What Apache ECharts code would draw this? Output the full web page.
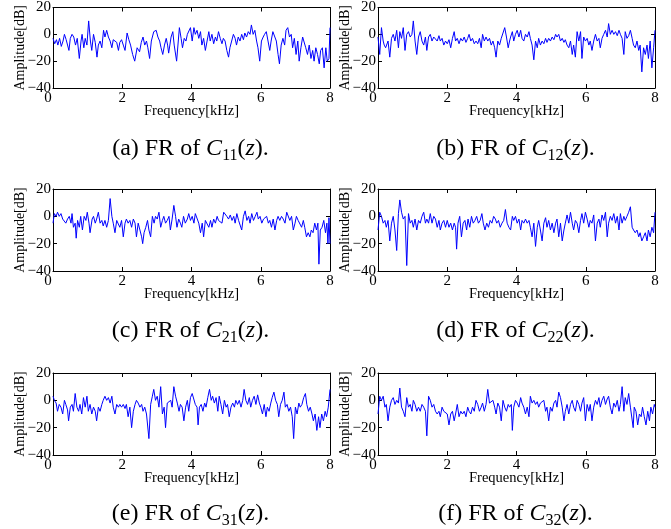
<!DOCTYPE html>
<html><head><meta charset="utf-8">
<script src="https://cdn.jsdelivr.net/npm/echarts@6/dist/echarts.min.js"></script>
<style>html,body{margin:0;padding:0;background:#fff}#c{width:671px;height:529px}</style>
</head><body><div id="c"></div>
<script>
// ---- data (frequency kHz, amplitude dB) ----
const xTicks = [0, 2, 4, 6, 8];
const yTicks = [-40, -20, 0, 20];
const captionLetters = ['a', 'b', 'c', 'd', 'e', 'f'];
const captionSubs = ['11', '12', '21', '22', '31', '32'];

const C11 = [[0,-3],[0.05,-7],[0.1,-4],[0.14,-8],[0.19,-3],[0.24,-9],[0.29,-5],[0.33,0],[0.38,-4],[0.46,-12],[0.5,-3],[0.55,0],[0.6,-2],[0.65,-8],[0.7,-3],[0.76,-18],[0.81,-5],[0.84,0],[0.89,-10],[0.93,-3],[0.98,-8],[1.03,10],[1.08,-5],[1.12,-12],[1.17,0],[1.22,-6],[1.27,-17],[1.31,-8],[1.36,-5],[1.41,-10],[1.46,3],[1.5,-2],[1.55,3],[1.6,-2],[1.65,-5],[1.7,-10],[1.74,-4],[1.79,-3],[1.84,-6],[1.89,-12],[1.93,-6],[1.98,-4],[2.03,-8],[2.08,-12],[2.14,1],[2.19,-4],[2.24,-8],[2.3,-15],[2.36,-20],[2.43,-10],[2.5,-13],[2.55,-6],[2.6,-2],[2.65,-8],[2.7,-5],[2.74,-10],[2.79,-18],[2.84,-5],[2.91,2],[2.98,3],[3.03,-2],[3.08,-5],[3.12,-10],[3.17,-15],[3.22,-8],[3.27,-3],[3.31,-8],[3.34,-14],[3.41,-2],[3.46,2],[3.5,-8],[3.57,-20],[3.65,5],[3.7,-3],[3.74,-10],[3.79,-3],[3.84,-5],[3.88,0],[3.97,5],[4.02,-5],[4.07,5],[4.11,0],[4.16,3],[4.21,-3],[4.26,2],[4.3,-8],[4.35,-3],[4.4,-12],[4.45,-5],[4.5,2],[4.54,-5],[4.59,0],[4.64,-7],[4.69,-2],[4.73,-5],[4.78,2],[4.83,-3],[4.88,-7],[4.92,-3],[4.97,-5],[5.02,-12],[5.07,-17],[5.11,-10],[5.16,-5],[5.21,0],[5.26,-3],[5.3,-8],[5.35,-2],[5.4,-5],[5.45,0],[5.5,-4],[5.54,1],[5.59,-2],[5.64,2],[5.69,0],[5.73,7],[5.78,0],[5.83,3],[5.88,-5],[5.92,-10],[5.97,-20],[6.02,-5],[6.07,-2],[6.11,0],[6.16,2],[6.21,-5],[6.26,-12],[6.3,-5],[6.35,2],[6.4,3],[6.45,-5],[6.5,-15],[6.54,-22],[6.59,-8],[6.64,-3],[6.69,-8],[6.73,3],[6.78,5],[6.83,-2],[6.88,0],[6.92,-10],[6.97,-3],[7.02,-15],[7.07,-5],[7.11,-20],[7.16,-10],[7.21,-2],[7.26,-3],[7.3,-10],[7.35,-15],[7.4,-8],[7.45,-18],[7.5,-12],[7.54,-20],[7.59,-10],[7.64,-15],[7.69,-22],[7.73,-12],[7.78,-10],[7.83,-25],[7.88,-10],[7.92,-20],[7.97,-18],[8,5]];

const C12 = [[0,-2],[0.05,-15],[0.1,5],[0.15,-5],[0.18,-8],[0.22,-10],[0.29,-5],[0.34,-17],[0.39,-3],[0.44,0],[0.49,-5],[0.54,3],[0.59,-10],[0.63,2],[0.68,-3],[0.73,5],[0.78,-12],[0.83,0],[0.88,2],[0.93,-2],[0.98,0],[1.02,10],[1.07,-5],[1.12,-15],[1.17,-2],[1.22,2],[1.27,-5],[1.32,-8],[1.37,-2],[1.41,-12],[1.46,-2],[1.51,0],[1.56,-5],[1.61,-2],[1.66,-3],[1.71,-5],[1.76,-1],[1.8,-5],[1.85,-3],[1.9,-8],[1.95,-5],[2.0,-7],[2.05,-4],[2.1,-10],[2.15,-3],[2.2,2],[2.24,-5],[2.29,-3],[2.34,-7],[2.39,-3],[2.44,-5],[2.49,-2],[2.54,-6],[2.59,-3],[2.63,0],[2.68,-5],[2.73,-3],[2.78,-7],[2.83,-5],[2.88,-7],[2.93,-3],[2.98,-10],[3.02,0],[3.07,-5],[3.12,-2],[3.17,-5],[3.22,-3],[3.27,-8],[3.32,-5],[3.37,-10],[3.41,-17],[3.46,-5],[3.51,-8],[3.56,-3],[3.66,5],[3.71,-2],[3.76,-10],[3.8,-5],[3.83,-2],[3.88,2],[3.92,-5],[3.97,0],[4.02,3],[4.07,-2],[4.12,3],[4.16,-3],[4.21,-5],[4.26,0],[4.31,-2],[4.36,2],[4.4,-3],[4.45,-8],[4.5,-19],[4.55,-5],[4.6,-10],[4.64,-3],[4.69,-8],[4.74,-5],[4.79,-7],[4.84,-3],[4.88,-6],[4.93,-3],[4.98,-5],[5.03,-2],[5.08,-4],[5.13,0],[5.17,-2],[5.22,0],[5.27,-5],[5.32,-3],[5.37,-6],[5.41,-4],[5.46,-8],[5.51,-10],[5.56,-5],[5.61,-15],[5.65,-8],[5.7,-17],[5.75,2],[5.8,-5],[5.85,2],[5.89,-18],[5.94,-2],[5.99,-5],[6.04,-3],[6.09,-8],[6.13,-5],[6.18,-12],[6.23,-5],[6.28,0],[6.33,-5],[6.38,-3],[6.42,-10],[6.47,-3],[6.52,0],[6.57,3],[6.62,-2],[6.66,8],[6.71,0],[6.76,3],[6.81,0],[6.86,2],[6.91,-1],[6.96,3],[7.0,0],[7.05,-3],[7.1,-15],[7.14,2],[7.19,-3],[7.24,-1],[7.29,3],[7.34,-3],[7.38,-8],[7.43,-10],[7.48,-5],[7.53,-12],[7.57,-8],[7.62,-28],[7.67,-10],[7.72,-15],[7.77,-8],[7.81,-18],[7.86,-5],[7.91,-25],[7.96,-10],[8,3]];

const C21 = [[0,-5],[0.04,2],[0.09,0],[0.13,3],[0.18,0],[0.23,2],[0.28,-2],[0.33,-3],[0.37,-5],[0.42,-2],[0.47,0],[0.52,-5],[0.55,2],[0.59,-8],[0.64,-5],[0.67,-16],[0.71,-3],[0.76,-8],[0.8,0],[0.85,-10],[0.9,0],[0.95,-3],[0.99,3],[1.04,-5],[1.07,-12],[1.13,-2],[1.17,0],[1.22,-5],[1.26,-2],[1.31,3],[1.36,-5],[1.41,-3],[1.45,-7],[1.5,-3],[1.55,-8],[1.6,-3],[1.65,13],[1.7,0],[1.74,-5],[1.79,-12],[1.84,-3],[1.89,-2],[1.93,-8],[1.98,-3],[2.03,-15],[2.08,-5],[2.12,-2],[2.17,-5],[2.22,-3],[2.27,-8],[2.32,-2],[2.37,-5],[2.41,-15],[2.46,-5],[2.51,-10],[2.56,-15],[2.59,-20],[2.63,-12],[2.68,-8],[2.73,-3],[2.77,-10],[2.82,-15],[2.87,0],[2.92,-5],[2.96,0],[3.01,-2],[3.06,3],[3.11,-8],[3.16,-3],[3.2,0],[3.25,-5],[3.3,-3],[3.35,0],[3.39,-10],[3.44,-2],[3.49,8],[3.54,0],[3.58,-8],[3.63,-2],[3.68,-5],[3.72,-8],[3.77,0],[3.82,-5],[3.88,-2],[3.92,2],[3.97,-3],[4.02,0],[4.07,-5],[4.11,2],[4.16,3],[4.21,-5],[4.26,-12],[4.31,-5],[4.35,-15],[4.4,-3],[4.45,-2],[4.5,-8],[4.55,-3],[4.59,-8],[4.64,-2],[4.69,-5],[4.74,0],[4.78,-3],[4.83,-2],[4.88,-5],[4.93,3],[4.98,2],[5.02,0],[5.07,-2],[5.12,1],[5.17,-3],[5.22,0],[5.26,-5],[5.31,2],[5.36,-3],[5.41,-2],[5.45,-10],[5.5,0],[5.55,4],[5.6,-3],[5.65,0],[5.69,-5],[5.74,2],[5.79,-3],[5.84,0],[5.89,3],[5.93,-2],[5.98,0],[6.03,-5],[6.08,-2],[6.12,-3],[6.17,0],[6.22,-5],[6.26,-3],[6.31,-8],[6.36,-2],[6.41,-10],[6.46,-3],[6.5,0],[6.55,-3],[6.6,0],[6.65,-2],[6.7,-5],[6.75,3],[6.79,2],[6.84,-3],[6.89,0],[6.94,-10],[6.99,-5],[7.03,0],[7.08,-3],[7.13,-2],[7.18,-8],[7.23,-3],[7.27,-8],[7.32,-15],[7.37,-12],[7.42,-15],[7.46,-10],[7.51,-12],[7.56,-5],[7.61,-10],[7.65,-5],[7.68,-35],[7.72,-10],[7.77,-8],[7.82,-3],[7.87,-12],[7.91,-5],[7.94,-20],[7.97,-1],[8,-20]];

const C22 = [[0,-10],[0.05,3],[0.1,0],[0.15,-5],[0.2,-3],[0.24,-8],[0.29,-3],[0.34,-18],[0.39,-5],[0.44,0],[0.49,-10],[0.54,-25],[0.59,2],[0.63,12],[0.68,3],[0.73,-2],[0.78,0],[0.83,-36],[0.88,2],[0.93,-5],[0.98,-3],[1.02,-8],[1.07,-2],[1.12,-10],[1.17,-3],[1.22,-5],[1.27,0],[1.32,3],[1.37,-5],[1.41,-2],[1.46,-5],[1.51,2],[1.56,-5],[1.61,0],[1.66,-2],[1.71,-8],[1.76,-3],[1.8,-10],[1.85,-5],[1.9,-3],[1.95,-8],[2.0,-3],[2.05,-8],[2.1,-5],[2.15,-10],[2.2,-5],[2.24,-8],[2.27,-24],[2.31,-5],[2.36,0],[2.41,-15],[2.46,-5],[2.51,-3],[2.56,-10],[2.6,-2],[2.65,-8],[2.7,0],[2.75,-5],[2.8,-3],[2.85,0],[2.9,-5],[2.95,-3],[3.0,2],[3.04,-5],[3.09,-10],[3.14,-5],[3.19,-8],[3.24,-3],[3.29,-5],[3.34,0],[3.39,-2],[3.43,-5],[3.48,-3],[3.53,-8],[3.58,-5],[3.63,-3],[3.68,5],[3.73,-5],[3.78,-8],[3.83,-10],[3.88,0],[3.92,-3],[3.97,0],[4.02,-5],[4.07,-2],[4.12,-10],[4.16,-3],[4.21,-5],[4.26,-2],[4.31,-5],[4.36,-3],[4.4,-8],[4.45,-15],[4.5,-5],[4.55,-22],[4.6,-8],[4.64,-3],[4.69,-10],[4.74,-18],[4.79,-5],[4.84,-1],[4.88,-8],[4.93,-3],[4.98,-10],[5.03,-5],[5.08,-12],[5.13,-5],[5.17,-2],[5.22,-15],[5.27,-5],[5.32,-18],[5.37,-10],[5.41,-5],[5.46,1],[5.51,-5],[5.56,3],[5.61,-5],[5.65,-10],[5.7,-3],[5.75,-5],[5.8,-12],[5.85,-3],[5.89,2],[5.94,-5],[5.99,3],[6.04,-2],[6.09,-8],[6.13,-3],[6.18,-5],[6.23,1],[6.28,-18],[6.33,-5],[6.38,-2],[6.42,-8],[6.47,1],[6.52,-3],[6.57,3],[6.62,-15],[6.66,-5],[6.71,0],[6.76,-3],[6.81,2],[6.86,-5],[6.91,0],[6.96,-10],[7.0,2],[7.05,-5],[7.1,0],[7.14,-3],[7.19,0],[7.24,3],[7.29,7],[7.34,-8],[7.38,-10],[7.43,-12],[7.48,-10],[7.53,-15],[7.57,-12],[7.62,-18],[7.67,-15],[7.72,-12],[7.77,-18],[7.81,-10],[7.86,-15],[7.91,-8],[7.96,-12],[8,3]];

const C31 = [[0,3],[0.04,0],[0.09,-2],[0.13,-8],[0.18,-3],[0.23,-5],[0.28,-10],[0.33,0],[0.37,-3],[0.42,-7],[0.45,-15],[0.5,-5],[0.55,-3],[0.59,-8],[0.64,5],[0.69,-5],[0.74,-8],[0.78,-3],[0.83,-10],[0.88,2],[0.93,-5],[0.98,3],[1.02,-8],[1.07,-3],[1.12,-10],[1.17,-5],[1.22,-8],[1.26,-15],[1.31,-5],[1.36,-8],[1.41,-3],[1.45,0],[1.5,3],[1.55,0],[1.6,2],[1.65,-2],[1.7,3],[1.74,-5],[1.79,-10],[1.84,-3],[1.89,-5],[1.93,-3],[1.98,-5],[2.03,-3],[2.08,-6],[2.12,-3],[2.17,-12],[2.22,-5],[2.27,-20],[2.32,-8],[2.37,-3],[2.41,0],[2.46,-2],[2.51,-5],[2.56,-3],[2.6,-8],[2.65,-5],[2.7,-10],[2.77,-28],[2.82,-3],[2.87,3],[2.91,8],[2.96,0],[3.01,3],[3.06,-5],[3.11,10],[3.16,-10],[3.21,-5],[3.25,-20],[3.3,-2],[3.35,-3],[3.4,0],[3.44,-5],[3.49,10],[3.54,3],[3.59,-2],[3.64,-8],[3.68,-3],[3.73,-5],[3.78,-15],[3.83,-5],[3.88,0],[3.92,-8],[3.97,2],[4.02,5],[4.07,6],[4.11,-3],[4.16,-5],[4.19,-18],[4.23,-5],[4.28,-3],[4.33,-8],[4.38,-2],[4.42,-5],[4.47,2],[4.52,8],[4.57,0],[4.61,3],[4.66,-2],[4.71,2],[4.76,-8],[4.8,3],[4.85,-3],[4.9,-10],[4.95,0],[5.0,-5],[5.04,-3],[5.09,-12],[5.14,-5],[5.19,-2],[5.24,-5],[5.28,0],[5.33,-3],[5.38,0],[5.43,-5],[5.48,0],[5.52,8],[5.57,0],[5.62,-3],[5.67,2],[5.71,-5],[5.76,0],[5.81,3],[5.86,-3],[5.91,4],[5.96,-2],[6.0,-5],[6.05,-10],[6.1,-3],[6.15,-12],[6.19,-5],[6.24,-8],[6.29,-2],[6.33,2],[6.38,6],[6.43,0],[6.48,-3],[6.52,-12],[6.57,-3],[6.62,0],[6.67,6],[6.71,-5],[6.76,-3],[6.81,-8],[6.86,-5],[6.91,-12],[6.95,-28],[7.0,-5],[7.05,-10],[7.1,-2],[7.14,-5],[7.19,-3],[7.24,2],[7.29,5],[7.33,-3],[7.38,-8],[7.43,-5],[7.48,-10],[7.52,-15],[7.57,-10],[7.62,-22],[7.67,-12],[7.71,-20],[7.76,-10],[7.81,-15],[7.86,-8],[7.9,-12],[7.95,-5],[8,8]];

const C32 = [[0,-10],[0.05,3],[0.1,0],[0.15,3],[0.2,-5],[0.24,-3],[0.29,-15],[0.34,-5],[0.39,0],[0.44,2],[0.49,-3],[0.54,0],[0.59,-2],[0.63,9],[0.68,-5],[0.73,-8],[0.78,-12],[0.83,2],[0.88,-5],[0.93,-3],[0.98,-8],[1.02,0],[1.07,-3],[1.12,-8],[1.17,-5],[1.22,-8],[1.27,-3],[1.32,-5],[1.37,-8],[1.41,-26],[1.46,3],[1.51,0],[1.56,-5],[1.61,-3],[1.66,-8],[1.71,-10],[1.76,-8],[1.8,-12],[1.85,-5],[1.9,-8],[1.95,-7],[2.0,-10],[2.05,-18],[2.1,-10],[2.15,-8],[2.2,-15],[2.24,-10],[2.29,-3],[2.34,-12],[2.39,-8],[2.44,-10],[2.49,-8],[2.54,-12],[2.59,-5],[2.63,-8],[2.68,-10],[2.73,-5],[2.78,-8],[2.83,0],[2.88,-3],[2.93,-8],[2.98,-5],[3.02,-2],[3.07,-8],[3.12,-3],[3.17,8],[3.22,-2],[3.27,-3],[3.32,0],[3.37,-5],[3.41,-10],[3.46,-2],[3.51,-5],[3.56,-15],[3.61,0],[3.66,-5],[3.71,-8],[3.76,-3],[3.8,-5],[3.85,-3],[3.88,-22],[3.92,-5],[3.97,0],[4.02,-2],[4.07,-5],[4.12,2],[4.16,-2],[4.21,-5],[4.26,-10],[4.31,-5],[4.36,-12],[4.4,3],[4.45,-2],[4.5,0],[4.55,-3],[4.6,-1],[4.64,-5],[4.69,-2],[4.74,-3],[4.79,0],[4.84,-8],[4.88,-5],[4.93,-15],[4.98,-5],[5.03,-8],[5.08,-2],[5.13,0],[5.17,-5],[5.22,6],[5.27,2],[5.32,-5],[5.37,-15],[5.41,-8],[5.46,-3],[5.51,-10],[5.56,-3],[5.61,0],[5.65,-5],[5.7,-8],[5.75,0],[5.8,-3],[5.85,-8],[5.89,-2],[5.94,2],[5.99,-15],[6.04,-3],[6.09,-8],[6.13,-3],[6.18,-15],[6.23,-5],[6.28,0],[6.33,-3],[6.38,2],[6.42,-5],[6.47,0],[6.52,3],[6.57,-3],[6.62,1],[6.66,3],[6.71,-5],[6.76,-10],[6.81,-2],[6.86,-5],[6.91,0],[6.96,-8],[7.0,-3],[7.05,10],[7.1,-8],[7.14,2],[7.19,-3],[7.24,5],[7.29,-5],[7.34,-5],[7.37,-20],[7.4,-5],[7.45,-8],[7.5,-18],[7.55,-10],[7.6,-12],[7.64,-5],[7.69,-12],[7.74,-18],[7.79,-8],[7.84,-15],[7.88,-5],[7.93,-10],[7.98,-3],[8,-5]];

const seriesData = [C11, C12, C21, C22, C31, C32];

// ---- layout ----
const FONT = 'Liberation Serif';
const gridLefts = [53, 378];
const gridTops = [6, 189, 373];
const captionY = [150, 332, 515];
const GW = 277, GH = 82;

const grids = [], xAxes = [], yAxes = [], series = [], graphics = [];
const lineStyleBlack = { color: '#000', width: 1 };

seriesData.forEach((data, i) => {
  const col = i % 2, row = Math.floor(i / 2);
  const left = gridLefts[col], top = gridTops[row];
  grids.push({ left: left, top: top, width: GW, height: GH });
  const xBase = {
    gridIndex: i, type: 'value', min: xTicks[0], max: xTicks[xTicks.length - 1], interval: 2,
    axisLine: { show: true, onZero: false, lineStyle: lineStyleBlack },
    axisTick: { show: true, inside: true, length: 4, lineStyle: lineStyleBlack },
    splitLine: { show: false }
  };
  xAxes.push(Object.assign({}, xBase, {
    position: 'bottom',
    name: 'Frequency[kHz]', nameLocation: 'middle', nameGap: 16, nameMoveOverlap: false,
    nameTextStyle: { fontFamily: FONT, fontSize: 14.5, color: '#000' },
    axisLabel: {
      show: true, margin: 3, fontFamily: FONT, fontSize: 15, color: '#000',
      formatter: v => v === 0 ? '{z|0}' : String(v),
      rich: { z: { fontFamily: FONT, fontSize: 15, color: '#000', padding: [0, 10, 0, 0] } }
    }
  }));
  xAxes.push(Object.assign({}, xBase, { position: 'top', axisLabel: { show: false } }));
  const yBase = {
    gridIndex: i, type: 'value', min: yTicks[0], max: yTicks[yTicks.length - 1], interval: 20,
    axisLine: { show: true, onZero: false, lineStyle: lineStyleBlack },
    axisTick: { show: true, inside: true, length: 4, lineStyle: lineStyleBlack },
    splitLine: { show: false }
  };
  yAxes.push(Object.assign({}, yBase, {
    position: 'left',
    name: 'Amplitude[dB]', nameLocation: 'middle', nameGap: 26, nameMoveOverlap: false,
    nameTextStyle: { fontFamily: FONT, fontSize: 14, color: '#000' },
    axisLabel: {
      show: true, margin: 2, fontFamily: FONT, fontSize: 15, color: '#000',
      formatter: v => String(v).replace('-', '\u2212')
    }
  }));
  yAxes.push(Object.assign({}, yBase, { position: 'right', axisLabel: { show: false } }));
  series.push({
    type: 'line', xAxisIndex: 2 * i, yAxisIndex: 2 * i, data: data,
    showSymbol: false, symbol: 'none', smooth: false,
    lineStyle: { color: '#0000ff', width: 1 }, animation: false
  });
  graphics.push({
    type: 'text', x: left + GW / 2 - 1, y: captionY[row],
    style: {
      text: '{n|(' + captionLetters[i] + ') FR of }{i|C}{s|' + captionSubs[i] + '}{n|(}{i|z}{n|).}',
      align: 'center', verticalAlign: 'middle',
      rich: {
        n: { fontFamily: FONT, fontSize: 24, fill: '#000', color: '#000', lineHeight: 27, verticalAlign: 'top' },
        i: { fontFamily: FONT, fontSize: 24, fontStyle: 'italic', fill: '#000', color: '#000', lineHeight: 27, verticalAlign: 'top' },
        s: { fontFamily: FONT, fontSize: 16, fill: '#000', color: '#000', lineHeight: 16, verticalAlign: 'bottom' }
      }
    }
  });
});

const chart = echarts.init(document.getElementById('c'), null, { renderer: 'canvas' });
chart.setOption({
  animation: false,
  backgroundColor: '#fff',
  grid: grids, xAxis: xAxes, yAxis: yAxes, series: series,
  graphic: graphics
});
</script>
</body></html>
